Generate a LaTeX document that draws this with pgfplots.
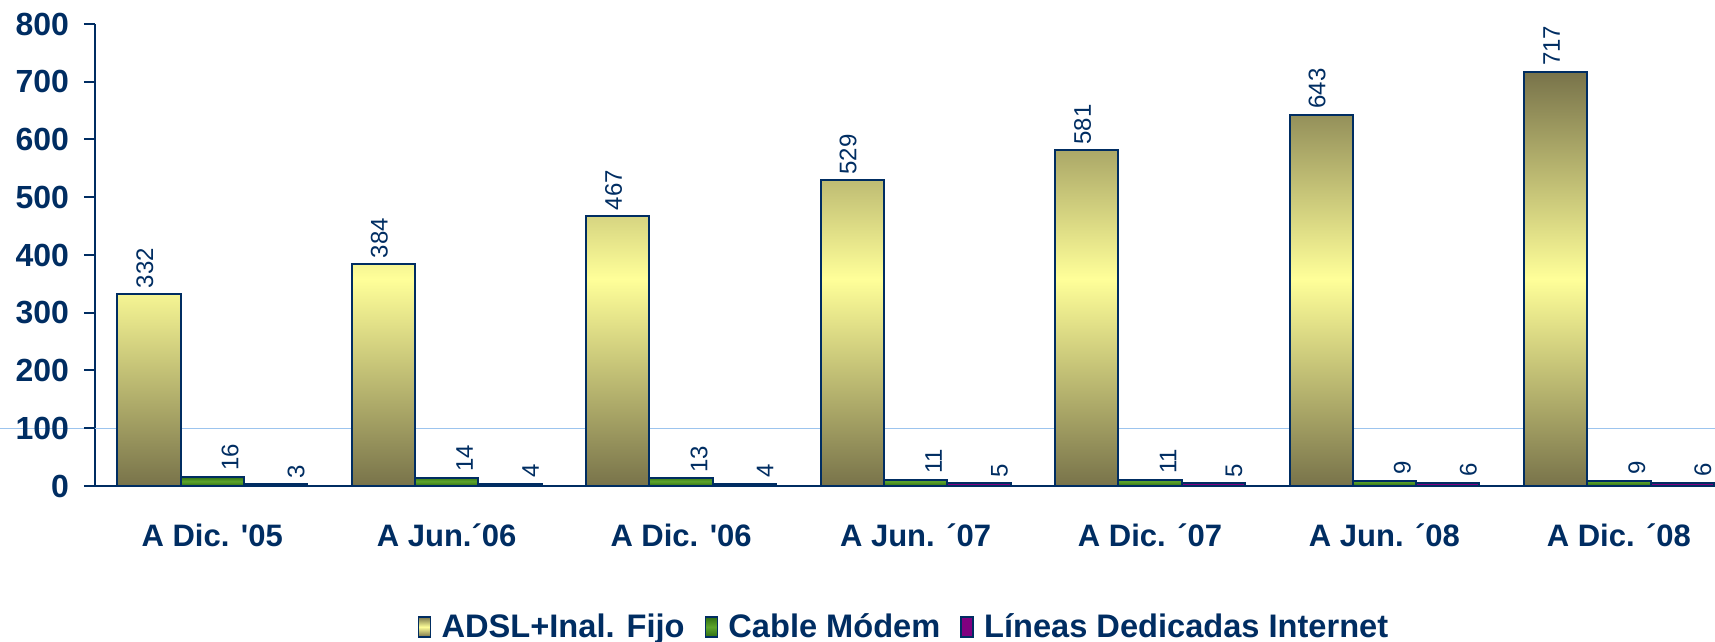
\documentclass[border=0pt]{standalone}
\usepackage{pgfplots}
\pgfplotsset{compat=1.18}
\usepackage{fontspec}
\setmainfont{Liberation Sans}
\definecolor{navy}{HTML}{002D62}
\definecolor{olivedk}{HTML}{78734A}
\definecolor{paleyel}{HTML}{FFFF99}
\definecolor{greendk}{HTML}{2F6E12}
\definecolor{greenlt}{HTML}{5DA52C}
\definecolor{violet}{HTML}{800080}
\definecolor{gridblue}{HTML}{9CC4EE}
\pgfdeclarelayer{background}
\pgfsetlayers{background,main}
\begin{document}
\begin{tikzpicture}
\begin{axis}[
    name=ax,
    scale only axis,
    width=810pt, height=231pt,
    xmin=-0.5, xmax=6.41,
    ymin=0, ymax=800,
    clip=false,
    axis x line*=bottom, axis y line*=left,
    axis line style={draw=navy, line width=1pt, -},
    tick style={draw=navy, line width=1pt},
    tick align=outside,
    major tick length=5.5pt,
    ytick={0,100,...,800},
    xtick={0,...,6},
    xticklabels={A Dic. \textquotesingle05, A Jun.´06, A Dic. \textquotesingle06, A Jun. ´07, A Dic. ´07, A Jun. ´08, A Dic. ´08},
    x tick style={draw=none},
    extra x ticks={-0.5,0.5,...,5.5},
    extra x tick labels={},
    extra x tick style={tick style={draw=navy, line width=1pt}},
    extra y ticks={100},
    extra y tick labels={},
    extra y tick style={grid=major, major grid style={draw=gridblue, line width=0.7pt}, major tick length=0pt},
    /pgf/number format/assume math mode=true,
    ticklabel style={font=\fontsize{15.5}{18}\selectfont\bfseries, text=navy},
    xticklabel style={yshift=-10pt},
    yticklabel style={xshift=-4pt, font=\fontsize{16}{19}\selectfont\bfseries},
    legend style={at={(0.5,-0.305)}, anchor=center, draw=none, fill=none,
      legend columns=-1, font=\fontsize{16.3}{19}\selectfont\bfseries, text=navy,
      /tikz/every even column/.append style={column sep=8pt}},
    mybar/.style={ybar, bar width=0.27, draw=navy, line width=1pt,
      legend image code/.code={\draw[##1, line width=0.8pt] (0pt,-5pt) rectangle (6pt,5pt);
        \path (9pt,0pt);}},
    nodes near coords,
    every node near coord/.append style={rotate=90, anchor=west, inner sep=2.5pt,
      font=\fontsize{12}{14}\selectfont, text=navy},
]
% shifts below are along the rotated label: yshift=-d moves a label d to the right
\addplot[mybar, bar shift=-0.27, top color=olivedk, bottom color=olivedk, middle color=paleyel,
    every node near coord/.append style={yshift=33.7pt}]
  coordinates {(0,332) (1,384) (2,467) (3,529) (4,581) (5,643) (6,717)};
\addplot[mybar, bar shift=0, top color=greendk, bottom color=greendk, middle color=greenlt,
    every node near coord/.append style={yshift=-9pt}]
  coordinates {(0,16) (1,14) (2,13) (3,11) (4,11) (5,9) (6,9)};
\addplot[mybar, bar shift=0.27, fill=violet,
    every node near coord/.append style={yshift=-42pt}]
  coordinates {(0,3) (1,4) (2,4) (3,5) (4,5) (5,6) (6,6)};
\legend{ADSL+Inal. Fijo, Cable Módem, Líneas Dedicadas Internet}
\end{axis}
\begin{pgfonlayer}{background}
\draw[gridblue, line width=0.7pt] ([yshift=28.875pt]ax.south west) -- ++(-47.5pt,0);
\end{pgfonlayer}
\pgfresetboundingbox
\path[use as bounding box] ([xshift=-47.5pt, yshift=-78pt]ax.south west) rectangle ([yshift=12pt]ax.north east);
\end{tikzpicture}
\end{document}
